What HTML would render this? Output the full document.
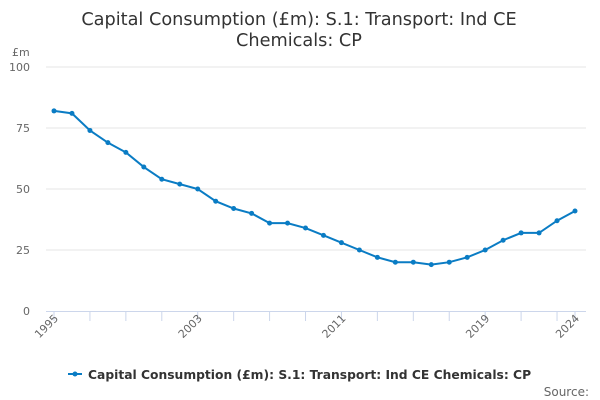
<!DOCTYPE html>
<html><head><meta charset="utf-8"><style>
body{margin:0;background:#fff;}
svg{display:block;font-family:"DejaVu Sans","Liberation Sans",sans-serif;}
</style></head><body>
<svg id="chart" width="600" height="400">
<text x="299" y="25" text-anchor="middle" font-size="17.7" fill="#333">Capital Consumption (£m): S.1: Transport: Ind CE</text>
<text x="299" y="46" text-anchor="middle" font-size="17.7" fill="#333">Chemicals: CP</text>
<text x="12" y="56" font-size="11" fill="#666">£m</text>
<g id="grid"></g><g id="xaxis"></g><g id="series"></g>
<g>
<line x1="68" y1="374" x2="82" y2="374" stroke="#0a7cc4" stroke-width="2"/>
<circle cx="75" cy="374" r="2.5" fill="#0a7cc4"/>
<text x="88" y="379" font-size="12.3" font-weight="bold" fill="#333">Capital Consumption (£m): S.1: Transport: Ind CE Chemicals: CP</text>
</g>
<text x="589" y="396" text-anchor="end" font-size="12" fill="#666">Source:</text>
</svg>
<script>
const years=[1995,1996,1997,1998,1999,2000,2001,2002,2003,2004,2005,2006,2007,2008,2009,2010,2011,2012,2013,2014,2015,2016,2017,2018,2019,2020,2021,2022,2023,2024];
const values=[82,81,74,69,65,59,54,52,50,45,42,40,36,36,34,31,28,25,22,20,20,19,20,22,25,29,32,32,37,41];
const yTicks=[0,25,50,75,100];
const xLabels=[1995,2003,2011,2019,2024];
const NS="http://www.w3.org/2000/svg";
const x=y=>54+(y-1995)*(575-54)/29;
const yv=v=>311-v*2.44;
function mk(t,a,p){const e=document.createElementNS(NS,t);for(const k in a)e.setAttribute(k,a[k]);p.appendChild(e);return e;}
const g=document.getElementById('grid'),xa=document.getElementById('xaxis'),s=document.getElementById('series');
yTicks.forEach(v=>{
 if(v>0){const l=mk('line',{x1:46,x2:586,y1:yv(v),y2:yv(v),stroke:'#e6e6e6'},g);
 
 }
 const t=mk('text',{x:30,y:yv(v)+4,'text-anchor':'end','font-size':11,fill:'#666'},g);t.textContent=v;
 
 
});
const ax=mk('line',{x1:46,x2:586,y1:311.5,y2:311.5,stroke:'#ccd6eb'},xa);


years.forEach((yr,i)=>{if(i%2==0||i==years.length-1){mk('line',{x1:x(yr),x2:x(yr),y1:311,y2:321,stroke:'#ccd6eb'},xa);}});
xLabels.forEach(yr=>{const lx=x(yr)+5,ly=319;const t=mk('text',{x:lx,y:ly,'text-anchor':'end','font-size':11,fill:'#666',transform:`rotate(-45 ${lx} ${ly})`},xa);t.textContent=yr;
 
 });
const p=mk('polyline',{points:years.map((yr,i)=>x(yr)+','+yv(values[i])).join(' '),fill:'none',stroke:'#0a7cc4','stroke-width':2},s);


years.forEach((yr,i)=>{const c=mk('circle',{cx:x(yr),cy:yv(values[i]),r:2.5,fill:'#0a7cc4'},s);
 
 });
</script>
</body></html>
